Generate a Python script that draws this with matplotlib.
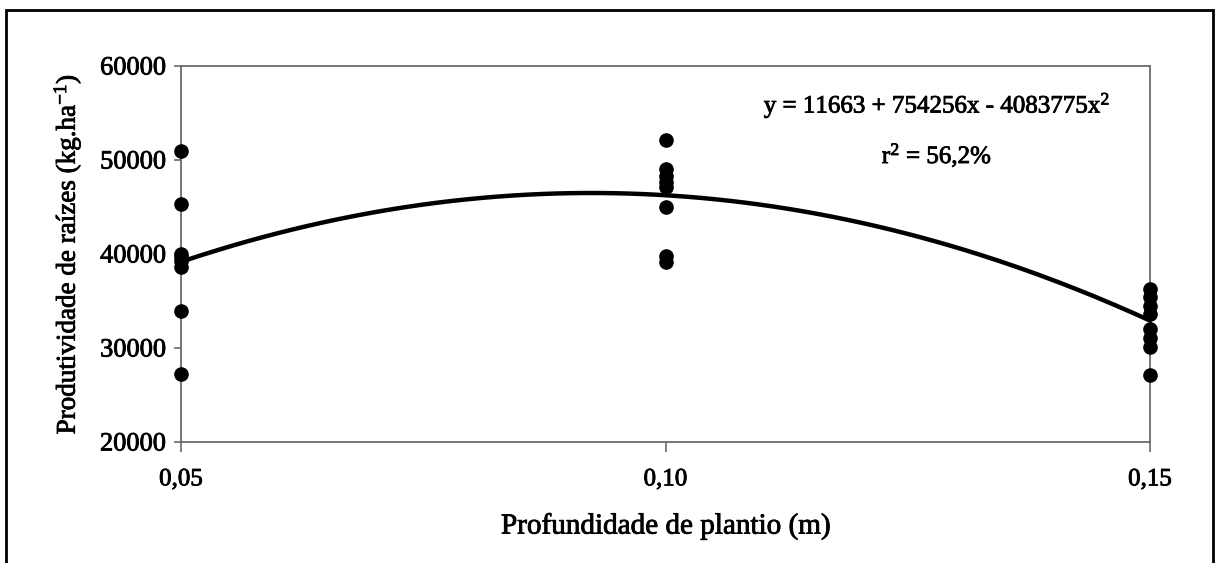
import matplotlib
matplotlib.use("Agg")
import matplotlib.pyplot as plt
import matplotlib.patheffects as pe
import numpy as np
from matplotlib.patches import Rectangle

plt.rcParams['font.family'] = ['Liberation Serif', 'DejaVu Serif']
plt.rcParams['mathtext.fontset'] = 'custom'
plt.rcParams['mathtext.rm'] = 'Liberation Serif'
plt.rcParams['mathtext.it'] = 'Liberation Serif:italic'

# Data
depths = [0.05, 0.10, 0.15]
depth_labels = ["0,05", "0,10", "0,15"]
yield_005 = [50970, 45310, 40000, 39700, 39290, 38580, 33980, 27260]
yield_010 = [52110, 49030, 48320, 47610, 47080, 44950, 39800, 39200]
yield_015 = [36290, 35400, 34510, 33630, 32040, 31080, 30090, 27080]
yticks = [20000, 30000, 40000, 50000, 60000]
coef = [11663, 754256, -4083775]  # y = b0 + b1 x + b2 x^2 (equation shown in the chart)

bold_fx = [pe.withStroke(linewidth=0.6, foreground='black')]

fig = plt.figure(figsize=(12.15, 5.63), dpi=100)
ax = fig.add_axes([181/1215, 1-442/563, (1150-181)/1215, (442-66)/563])

# outer frame
fig.patches.append(Rectangle((6/1215, -0.01), (1213-6)/1215, 1-10/563+0.01,
                             transform=fig.transFigure, fill=False,
                             edgecolor='black', linewidth=2))

# fitted curve
xs = np.linspace(depths[0], depths[-1], 200)
ys = coef[0] + coef[1]*xs + coef[2]*xs**2
ax.plot(xs, ys, color='black', linewidth=3.2, zorder=3, clip_on=False)

for d, vals in zip(depths, [yield_005, yield_010, yield_015]):
    ax.plot([d]*len(vals), vals, 'o', color='black', markersize=9.5,
            zorder=4, clip_on=False)

ax.set_xlim(depths[0], depths[-1])
ax.set_ylim(yticks[0], yticks[-1])
ax.set_xticks(depths)
ax.set_xticklabels(depth_labels)
ax.set_yticks(yticks)
ax.set_yticklabels([str(v) for v in yticks])

for s in ax.spines.values():
    s.set_color('#6a6a6a')
    s.set_linewidth(1.3)

ax.tick_params(axis='y', direction='out', length=5, width=1.2, color='#6a6a6a',
               labelsize=19, pad=6)
ax.tick_params(axis='x', direction='out', length=7, width=1.2, color='#6a6a6a',
               labelsize=18, pad=12)
for lab in ax.get_xticklabels() + ax.get_yticklabels():
    lab.set_path_effects(bold_fx)

xl = ax.set_xlabel("Profundidade de plantio (m)", fontsize=21, labelpad=16)
yl = ax.set_ylabel("Produtividade de raízes (kg.ha$^{-1}$)", fontsize=19.5, labelpad=12)
xl.set_path_effects(bold_fx)
yl.set_path_effects(bold_fx)

t1 = fig.text(937/1215, 1-105/563, "y = 11663 + 754256x - 4083775x$^{2}$",
              ha='center', va='center', fontsize=18)
t2 = fig.text(937/1215, 1-155/563, "r$^{2}$ = 56,2%",
              ha='center', va='center', fontsize=18)
t1.set_path_effects(bold_fx)
t2.set_path_effects(bold_fx)

fig.savefig("out.png", dpi=100, facecolor='white')
